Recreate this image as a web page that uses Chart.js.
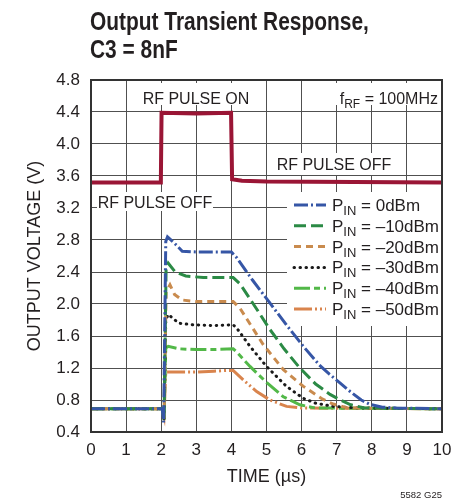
<!DOCTYPE html>
<html>
<head>
<meta charset="utf-8">
<script src="https://cdn.jsdelivr.net/npm/chart.js@4.4.1/dist/chart.umd.min.js"></script>
<style>
  html, body { margin: 0; padding: 0; background: #fff; }
  canvas { display: block; }
</style>
</head>
<body>
<canvas id="chart" width="466" height="502"></canvas>
<script>
// axis ticks
const xTicks = [0, 1, 2, 3, 4, 5, 6, 7, 8, 9, 10];
const yTicks = [0.4, 0.8, 1.2, 1.6, 2.0, 2.4, 2.8, 3.2, 3.6, 4.0, 4.4, 4.8];

// RF pulse (input) trace
const pulseTime = [0, 1.99, 2.01, 3.0, 3.99, 4.02, 4.3, 5.0, 10];
const pulseVolt = [3.52, 3.52, 4.39, 4.38, 4.39, 3.56, 3.54, 3.53, 3.52];

// output traces, one per input power level
const time0 = [0, 2.03, 2.07, 2.13, 2.18, 2.4, 2.6, 3.0, 3.5, 4.0, 4.15, 4.6, 5.1, 5.6, 6.05, 6.5, 6.8, 7.1, 7.4, 7.7, 7.95, 8.3, 8.7, 10];
const volt0 = [0.69, 0.69, 0.52, 2.78, 2.84, 2.75, 2.66, 2.65, 2.65, 2.65, 2.58, 2.30, 2.01, 1.72, 1.47, 1.24, 1.12, 1.01, 0.90, 0.80, 0.745, 0.71, 0.70, 0.69];

const time10 = [0, 2.03, 2.08, 2.14, 2.2, 2.4, 2.7, 3.2, 3.6, 4.05, 4.25, 4.7, 5.1, 5.5, 5.95, 6.4, 6.81, 7.1, 7.4, 7.8, 10];
const volt10 = [0.69, 0.69, 0.55, 2.45, 2.51, 2.40, 2.35, 2.33, 2.33, 2.33, 2.25, 1.95, 1.68, 1.44, 1.20, 1.00, 0.87, 0.80, 0.74, 0.70, 0.69];

const time20 = [0, 2.03, 2.08, 2.14, 2.25, 2.38, 2.6, 3.0, 3.5, 4.05, 4.24, 4.91, 5.48, 6.05, 6.6, 6.9, 7.3, 10];
const volt20 = [0.69, 0.69, 0.55, 2.15, 2.24, 2.12, 2.05, 2.03, 2.03, 2.03, 1.95, 1.49, 1.18, 0.97, 0.81, 0.75, 0.70, 0.69];

const time30 = [0, 2.03, 2.08, 2.13, 2.2, 2.5, 2.9, 3.5, 4.05, 4.15, 4.53, 5.0, 5.57, 6.05, 6.4, 6.9, 7.6, 10];
const volt30 = [0.69, 0.69, 0.55, 1.80, 1.87, 1.76, 1.74, 1.73, 1.74, 1.70, 1.47, 1.22, 0.97, 0.82, 0.76, 0.72, 0.70, 0.69];

const time40 = [0, 2.03, 2.08, 2.13, 2.2, 2.5, 3.0, 3.5, 4.05, 4.15, 4.53, 5.0, 5.48, 5.95, 6.4, 10];
const volt40 = [0.69, 0.69, 0.55, 1.45, 1.47, 1.44, 1.43, 1.43, 1.44, 1.40, 1.22, 1.02, 0.84, 0.74, 0.70, 0.69];

const time50 = [0, 2.03, 2.08, 2.13, 2.5, 3.0, 3.5, 3.9, 4.05, 4.34, 4.72, 5.1, 5.57, 6.0, 10];
const volt50 = [0.69, 0.69, 0.60, 1.15, 1.15, 1.15, 1.16, 1.17, 1.17, 1.05, 0.905, 0.80, 0.72, 0.70, 0.69];

const pinLevels = ['0dBm', '\u201310dBm', '\u201320dBm', '\u201330dBm', '\u201340dBm', '\u201350dBm'];

const INK = '#231f20';
const SANS = '"Liberation Sans", Arial, sans-serif';

function toPoints(ts, vs) {
    return ts.map((t, i) => ({ x: t, y: vs[i] }));
}

function trace(label, ts, vs, color, dash, cap, width) {
    return {
        label: label,
        data: toPoints(ts, vs),
        borderColor: color,
        borderWidth: width || 3,
        borderDash: dash,
        borderCapStyle: cap || 'butt',
        pointRadius: 0,
        tension: 0
    };
}

// draws text made of parts, some of them subscripts
function richText(ctx, parts, x, y, size, align) {
    const subSize = Math.round(size * 0.74);
    let width = 0;
    parts.forEach(p => {
        ctx.font = `${p.sub ? subSize : size}px ${SANS}`;
        width += ctx.measureText(p.t).width;
    });
    let cx = align === 'right' ? x - width : (align === 'center' ? x - width / 2 : x);
    ctx.textAlign = 'left';
    ctx.textBaseline = 'alphabetic';
    parts.forEach(p => {
        ctx.font = `${p.sub ? subSize : size}px ${SANS}`;
        ctx.fillText(p.t, cx, p.sub ? y + 4 : y);
        cx += ctx.measureText(p.t).width;
    });
}

const decor = {
    id: 'decor',
    beforeDatasetsDraw(chart) {
        const ctx = chart.ctx;
        ctx.save();
        // white patches under the labels and legend
        ctx.fillStyle = '#fff';
        ctx.fillRect(287, 192, 154, 134);
        ctx.fillRect(97, 192, 116, 19);
        ctx.fillRect(150, 83, 91, 22);
        ctx.fillRect(330, 83, 110, 22);
        ctx.fillRect(276, 153, 116, 22);

        ctx.fillStyle = INK;
        richText(ctx, [{ t: 'RF PULSE ON' }], 196, 103.5, 16, 'center');
        richText(ctx, [{ t: 'f' }, { t: 'RF', sub: true }, { t: ' = 100MHz' }], 438, 103.5, 16, 'right');
        richText(ctx, [{ t: 'RF PULSE OFF' }], 334, 169.5, 16, 'center');
        richText(ctx, [{ t: 'RF PULSE OFF' }], 155, 208, 16, 'center');

        // legend
        const sets = chart.data.datasets.slice(1);
        sets.forEach((ds, i) => {
            const y = 205 + i * 20.8;
            ctx.save();
            ctx.strokeStyle = ds.borderColor;
            ctx.lineWidth = ds.borderWidth;
            ctx.lineCap = ds.borderCapStyle;
            ctx.setLineDash(ds.borderDash);
            ctx.beginPath();
            ctx.moveTo(294, y);
            ctx.lineTo(326, y);
            ctx.stroke();
            ctx.restore();
            ctx.fillStyle = INK;
            richText(ctx, [{ t: 'P' }, { t: 'IN', sub: true }, { t: ' = ' + pinLevels[i] }], 332, y + 6, 17, 'left');
        });
        ctx.restore();
    },
    afterDraw(chart) {
        const ctx = chart.ctx;
        const a = chart.chartArea;
        ctx.save();
        ctx.strokeStyle = '#333';
        ctx.lineWidth = 2;
        ctx.strokeRect(a.left, a.top, a.right - a.left, a.bottom - a.top);

        // title, condensed bold
        ctx.fillStyle = INK;
        ctx.font = `bold 25.5px ${SANS}`;
        ctx.textAlign = 'left';
        ctx.textBaseline = 'alphabetic';
        ctx.save();
        ctx.translate(90, 30);
        ctx.scale(0.82, 1);
        ctx.fillText('Output Transient Response,', 0, 0);
        ctx.fillText('C3 = 8nF', 0, 28);
        ctx.restore();

        ctx.font = `9.5px ${SANS}`;
        ctx.textAlign = 'right';
        ctx.fillText('5582 G25', 442, 498);
        ctx.restore();
    }
};

const tickFont = { family: SANS, size: 17 };
const titleFont = { family: '"Liberation Sans Narrow", "Liberation Sans", Arial, sans-serif', size: 18 };

new Chart(document.getElementById('chart'), {
    type: 'line',
    data: {
        datasets: [
            trace('RF pulse', pulseTime, pulseVolt, '#9a1535', [], 'butt', 4),
            trace('0dBm', time0, volt0, '#3656a6', [14, 3, 2, 3]),
            trace('-10dBm', time10, volt10, '#2b8a45', [12, 5]),
            trace('-20dBm', time20, volt20, '#c98b4e', [7, 5]),
            trace('-30dBm', time30, volt30, '#1a1a1a', [0.5, 5.5], 'round'),
            trace('-40dBm', time40, volt40, '#52b848', [16, 4, 6, 4]),
            trace('-50dBm', time50, volt50, '#d9844d', [18, 3, 2, 3, 2, 3])
        ]
    },
    options: {
        responsive: false,
        animation: false,
        layout: { padding: { top: 80, right: 24, left: 0, bottom: 0 } },
        plugins: {
            legend: { display: false },
            tooltip: { enabled: false }
        },
        scales: {
            x: {
                type: 'linear',
                min: 0,
                max: 10,
                afterFit: scale => { scale.height = 70; },
                afterBuildTicks: scale => { scale.ticks = xTicks.map(v => ({ value: v })); },
                ticks: { font: tickFont, color: INK, padding: 8, maxRotation: 0, callback: v => String(v) },
                grid: { color: '#505050', lineWidth: 1, drawTicks: false },
                border: { display: false },
                title: { display: true, text: 'TIME (\u00b5s)', font: titleFont, color: INK, padding: { bottom: 14 } }
            },
            y: {
                type: 'linear',
                min: 0.4,
                max: 4.8,
                afterFit: scale => { scale.width = 91; },
                afterBuildTicks: scale => { scale.ticks = yTicks.map(v => ({ value: v })); },
                ticks: { font: tickFont, color: INK, padding: 11, callback: v => v.toFixed(1) },
                grid: { color: '#505050', lineWidth: 1, drawTicks: false },
                border: { display: false },
                title: { display: true, text: 'OUTPUT VOLTAGE (V)', font: titleFont, color: INK, padding: { top: 24 } }
            }
        }
    },
    plugins: [decor]
});
</script>
</body>
</html>
